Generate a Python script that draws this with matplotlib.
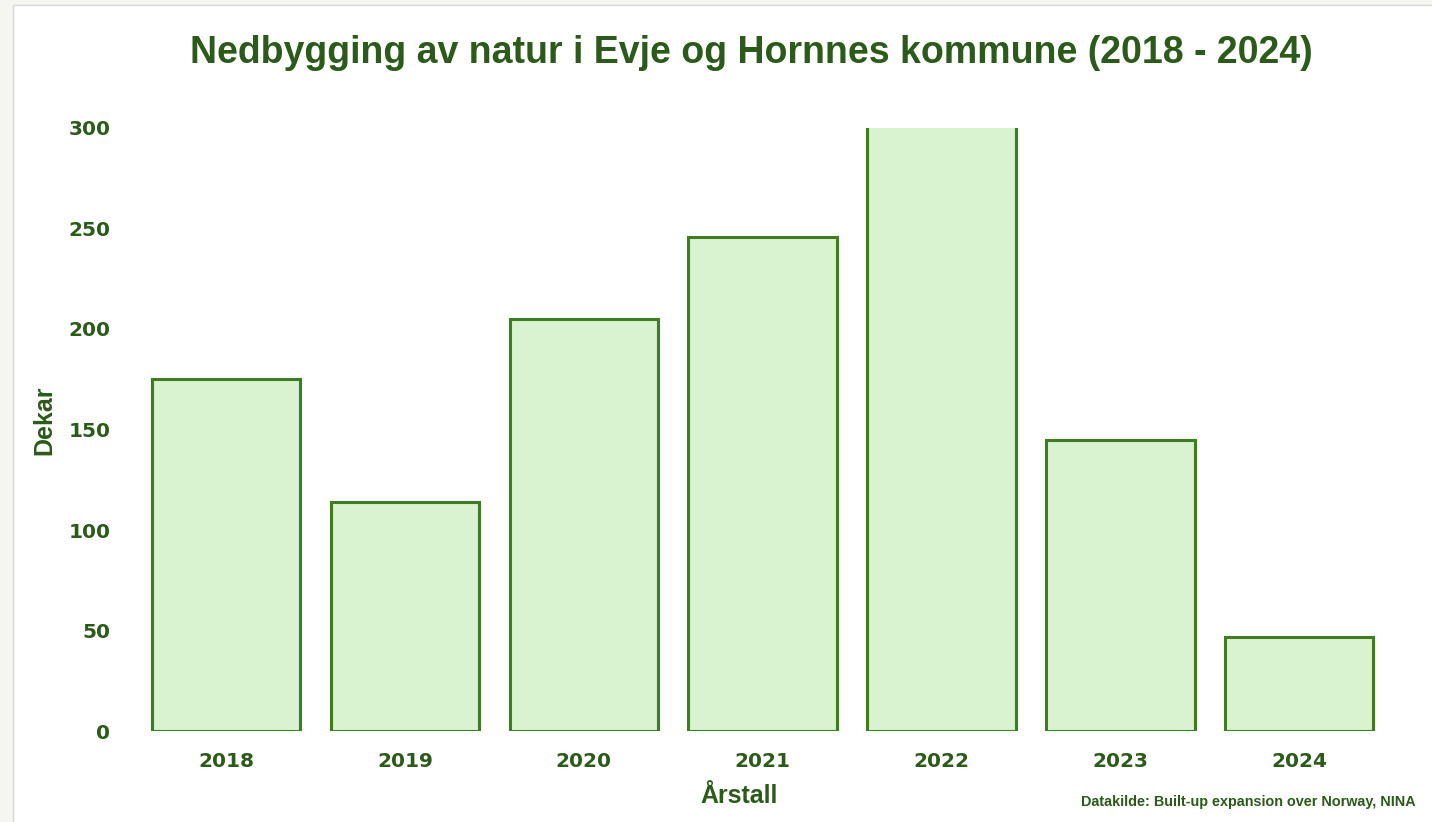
import matplotlib
matplotlib.use("Agg")
import matplotlib.pyplot as plt
from matplotlib.patches import Rectangle

# Nedbygd areal per år (dekar)
years = ["2018", "2019", "2020", "2021", "2022", "2023", "2024"]
dekar = [175, 114, 205, 246, 310, 145, 47]
yticks = [0, 50, 100, 150, 200, 250, 300]

GREEN_TXT = "#2b5a1a"
BAR_FACE = "#d9f2d0"
BAR_EDGE = "#3e7d24"
FONT = ["Liberation Sans", "DejaVu Sans"]
TICKFONT = ["DejaVu Sans"]
NARROW = ["Liberation Sans Narrow", "Liberation Sans", "DejaVu Sans"]

W, H = 1432, 822
fig = plt.figure(figsize=(W / 100, H / 100), dpi=100, facecolor="#f6f6f1")

# hvit ramme bak alt
fig.patches.append(Rectangle((13 / W, -0.05), 1.1, 1 - 5 / H + 0.05, transform=fig.transFigure,
                             facecolor="white", edgecolor="#d6d6d2", lw=1.0, zorder=-10))

ax = fig.add_axes([136.6 / W, 91 / H, 1252 / W, 603 / H])
ax.set_zorder(1)
ax.set_facecolor("none")
x = range(len(years))
ax.bar(x, dekar, width=0.83, color=BAR_FACE, edgecolor=BAR_EDGE, linewidth=2.2)
ax.set_xlim(-0.5, len(years) - 0.5)
ax.set_ylim(0, 300)
ax.set_yticks(yticks)
ax.set_xticks(list(x))
ax.set_xticklabels(years)
for s in ax.spines.values():
    s.set_visible(False)
ax.tick_params(axis="y", length=0, pad=19)
ax.tick_params(axis="x", length=0, pad=15)
for lab in ax.get_yticklabels() + ax.get_xticklabels():
    lab.set_fontfamily(TICKFONT)
    lab.set_fontweight("bold")
    lab.set_fontsize(14.5)
    lab.set_color(GREEN_TXT)

fig.text(751 / W, 1 - 53 / H, "Nedbygging av natur i Evje og Hornnes kommune (2018 - 2024)",
         ha="center", va="center", fontsize=27, fontweight="bold", color=GREEN_TXT, family=FONT)
fig.text(44 / W, 1 - 420 / H, "Dekar", rotation=90, ha="center", va="center",
         fontsize=18, fontweight="bold", color=GREEN_TXT, family=NARROW)
fig.text(739 / W, 1 - 796 / H, "Årstall", ha="center", va="center",
         fontsize=18, fontweight="bold", color=GREEN_TXT, family=NARROW)
fig.text(1416 / W, 1 - 802 / H, "Datakilde: Built-up expansion over Norway, NINA", ha="right", va="center",
         fontsize=10.4, fontweight="bold", color=GREEN_TXT, family=FONT)

fig.savefig("out.png", dpi=100, facecolor=fig.get_facecolor())
